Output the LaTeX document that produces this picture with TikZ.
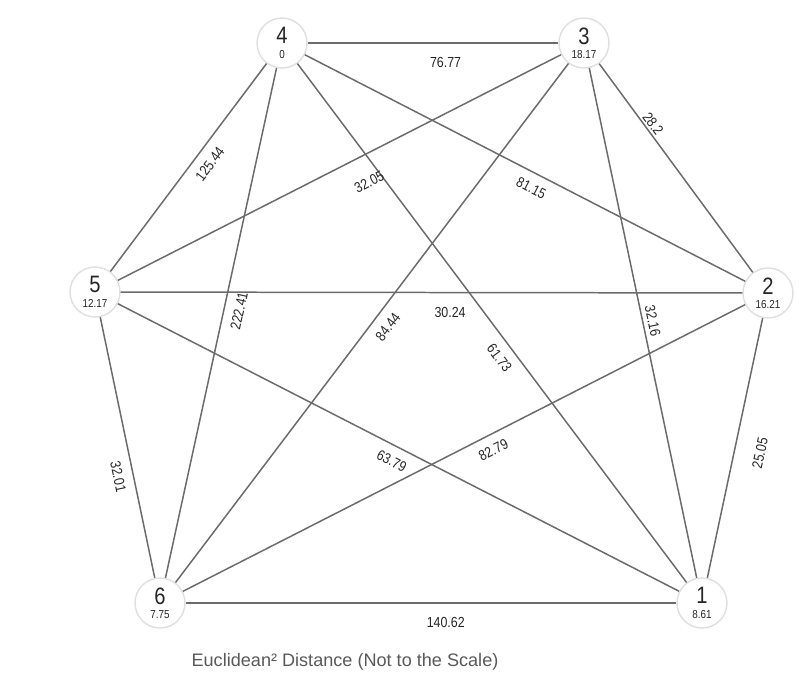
\documentclass[tikz,border=0pt]{standalone}
\usepackage{fontspec}
\setmainfont{Liberation Sans}
\newfontfamily\narrowsf[FakeStretch=0.85]{Liberation Sans}
\newcommand{\stn}[2]{{\fontsize{13.5}{8.2}\selectfont #1}\\{#2}}

\begin{document}
\begin{tikzpicture}[x=0.02cm, y=-0.02cm,
    station/.style={circle, draw=gray!25, line width=0.8pt, fill=white,
      minimum size=1cm, inner sep=0pt, align=center, text=black!85,
      font=\narrowsf\fontsize{6.6}{8.2}\selectfont},
    edge/.style={draw=black!58, line width=0.85pt},
    elabel/.style={sloped, below=4.2pt, inner sep=1pt, text=black!85,
      font=\narrowsf\fontsize{8.3}{9}\selectfont},
    caption/.style={text=black!65, font=\fontsize{10.3}{12}\selectfont}]
    \useasboundingbox (0,0) rectangle (799,677);

    % Stations
    \node[station] (n4) at (282,43) {\stn{4}{0}};
    \node[station] (n3) at (584,43) {\stn{3}{18.17}};
    \node[station] (n5) at (95,292) {\stn{5}{12.17}};
    \node[station] (n2) at (768,293) {\stn{2}{16.21}};
    \node[station] (n6) at (160,603) {\stn{6}{7.75}};
    \node[station] (n1) at (702,603) {\stn{1}{8.61}};

    % Distances from 4
    \draw[edge] (n4) -- node[elabel, below=2.6pt, pos=0.55] {76.77} (n3);
    \draw[edge] (n4) -- node[elabel, pos=0.44] {125.44} (n5);
    \draw[edge] (n4) -- node[elabel, pos=0.47] {222.41} (n6);
    \draw[edge] (n4) -- node[elabel, pos=0.55] {61.73} (n1);
    \draw[edge] (n4) -- node[elabel, pos=0.53] {81.15} (n2);

    % Distances from 3
    \draw[edge] (n3) -- node[elabel, below=6.5pt, pos=0.46] {32.05} (n5);
    \draw[edge] (n3) -- node[elabel, pos=0.49] {84.44} (n6);
    \draw[edge] (n3) -- node[elabel, above=4.2pt, pos=0.31] {28.2} (n2);
    \draw[edge] (n3) -- node[elabel, above=5.5pt, pos=0.5] {32.16} (n1);

    % Distances from 5, 2 and 6
    \draw[edge] (n5) -- node[elabel, below=2.8pt, pos=0.53] {30.24} (n2);
    \draw[edge] (n5) -- node[elabel, pos=0.6] {32.01} (n6);
    \draw[edge] (n5) -- node[elabel, pos=0.5] {63.79} (n1);
    \draw[edge] (n6) -- node[elabel, pos=0.54] {82.79} (n2);
    \draw[edge] (n2) -- node[elabel, below=6pt, pos=0.5] {25.05} (n1);
    \draw[edge] (n6) -- node[elabel, below=2.8pt, pos=0.53] {140.62} (n1);

    % Caption
    \node[caption] (cap) at (345,662) {Euclidean² Distance (Not to the Scale)};
\end{tikzpicture}
\end{document}
